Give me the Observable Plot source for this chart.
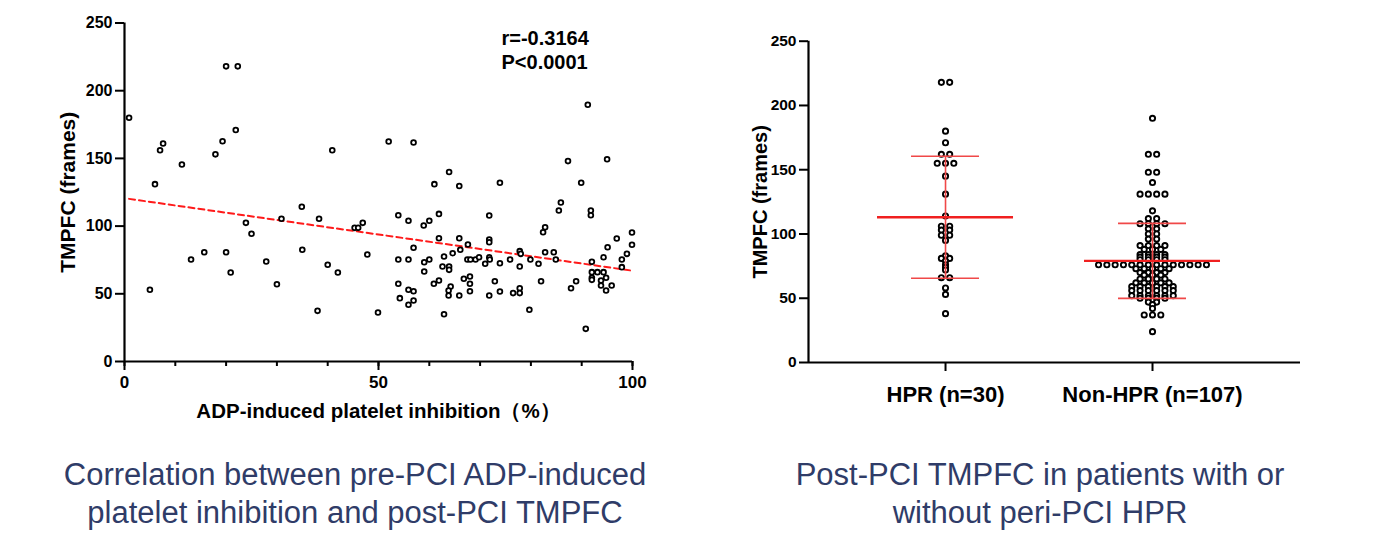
<!DOCTYPE html>
<html>
<head>
<meta charset="utf-8">
<script src="https://cdn.jsdelivr.net/npm/d3@7"></script>
<script src="https://cdn.jsdelivr.net/npm/@observablehq/plot@0.6"></script>
<style>
  html, body { margin: 0; padding: 0; background: #fff; }
  body { width: 1385px; height: 545px; position: relative; overflow: hidden;
         font-family: "Liberation Sans", Arial, sans-serif; }
  #left { position: absolute; left: 0; top: 0; }
  #right { position: absolute; left: 700px; top: 0; }
  .cap { position: absolute; text-align: center; color: #2f3c68;
         font-size: 31px; line-height: 38px; white-space: nowrap; }
</style>
</head>
<body>
<div id="left"></div>
<div id="right"></div>
<div class="cap" style="left:0; width:710px; top:456px;">Correlation between pre-PCI ADP-induced<br>platelet inhibition and post-PCI TMPFC</div>
<div class="cap" style="left:700px; width:680px; top:456px;">Post-PCI TMPFC in patients with or<br>without peri-PCI HPR</div>
<script>
// ADP-induced platelet inhibition (%) and post-PCI TMPFC (frames), one entry per patient
const inhibition = [0.9,20,22.3,6,7,7.6,11.3,17.9,19.3,21.9,40.9,91.2,52,56.9,63.9,61,65.9,73.9,87.3,95,89.9,85.9,85.5,91.8,91.8,53.9,55.9,60,58.9,61.9,71.8,82.8,82.4,99.9,96.9,61.9,65.9,71.8,23.9,25,30.9,34.9,38.3,45.3,46,46.9,5,13.1,15.7,20,20.9,27.9,30,35,38,40,42,47.8,49.9,56.9,71.8,64.6,62.9,66.1,67.6,53.9,55.9,59,60,59,62.6,63.9,63.9,67.5,68.1,69.1,69.8,71,71.8,71.9,73.9,75.9,77.8,78,77.8,79.9,81.5,82.8,84.5,84.9,92,94.3,95.1,97.9,98.9,99.9,97.9,92,92,92,93.1,94.3,93.8,94.8,93.8,94.8,95.9,88.9,87.9,90.8,82,79.7,77.8,77.8,76.5,73.9,72.9,71.8,68,68,68,66.8,65.9,64.2,63.8,63.8,61.9,60.9,62.9,56.9,55.9,56.9,55.9,54.2,53.9];
const tmpfc = [180,218,218,131,156,161,145.5,153,162.7,171,156,189.6,162.5,161.7,140,131,129.6,132,148,149.4,132,117.4,111.5,111.5,108,108,104,104,100.4,109,107.8,99.2,95.5,95.3,90.8,91,91,90.1,102.4,94.3,105.4,114.3,105.4,98.7,98.7,102.4,53,75.3,80.7,80.7,65.7,73.9,57,82.5,37.4,71.4,65.7,79,36.2,84,88.1,80,77.5,82.5,86.4,75.3,75.3,73.3,75.3,66.5,70.2,70.2,67.7,75.3,75.3,75.3,77,72.2,77,75.3,72.6,75.3,81.5,79.5,70.2,75.3,72.2,80.7,80.7,75.3,73.6,77,84.4,75.3,79.5,86.2,69.7,66,61.8,60.3,66,66,59.8,61.8,56.1,52.4,56.1,59.3,54.1,24.1,59.3,38.2,54.1,50.5,50.5,51.7,59.3,48.7,62.8,57.4,51.9,61.1,48.7,55.4,52.4,48.7,59.8,57.4,34.9,51.9,53,45,41.9,46.8,57.4];

// TMPFC by peri-PCI platelet reactivity group
const hprValues = [218,218,180,171,162,162,155,155,155,145,131,114,106,106,103,103,99,99,95,83,81,81,79,76,74,72,66,66,58,53,38];
const nonHprValues = [190,162,162,148,148,140,131,131,131,131,118,112,112,108,108,108,108,104,104,100,100,96,96,91,91,91,91,88,88,88,84,84,84,84,82,82,82,82,80,80,80,80,
  76,76,76,76,76,76,76,76,76,76,76,76,76,76,73,73,73,73,73,70,70,70,70,68,68,68,65,65,65,65,62,62,62,62,62,
  59,59,59,59,59,59,56,56,56,56,56,56,52,52,52,52,52,52,50,50,50,50,47,47,45,42,37,37,37,24];
const groupLabels = ["HPR (n=30)", "Non-HPR (n=107)"];

const xTicksMajor = [0, 50, 100];
const xTicksMinor = [0, 10, 20, 30, 40, 50, 60, 70, 80, 90, 100];
const yTicks = [0, 50, 100, 150, 200, 250];
const statR = "r=-0.3164";
const statP = "P<0.0001";

const font = '"Liberation Sans", Arial, sans-serif';
const scatter = inhibition.map((x, i) => ({x, y: tmpfc[i]}));

// ---- Left: scatter with linear fit ----
const leftPlot = Plot.plot({
  width: 680, height: 430,
  marginLeft: 124, marginRight: 48, marginTop: 22.5, marginBottom: 69,
  x: {domain: [0, 100]},
  y: {domain: [0, 250]},
  style: {fontFamily: font, fontWeight: "bold", color: "black", background: "white", overflow: "visible"},
  marks: [
    Plot.axisX({ticks: xTicksMinor, tickSize: 5, strokeWidth: 2, tickFormat: () => "", label: null}),
    Plot.axisX({ticks: xTicksMajor, tickSize: 9, strokeWidth: 2, tickPadding: 5, fontSize: 17, label: null}),
    Plot.axisY({ticks: yTicks, tickSize: 9, strokeWidth: 2, tickPadding: 3, fontSize: 16, label: null}),
    Plot.ruleX([0], {strokeWidth: 2.2}),
    Plot.ruleY([0], {strokeWidth: 2.2}),
    Plot.linearRegressionY(scatter, {x: "x", y: "y", stroke: "#ff1a1a", strokeWidth: 2, strokeDasharray: "6,4", ci: 0}),
    Plot.dot(scatter, {x: "x", y: "y", r: 2.4, stroke: "black", strokeWidth: 1.8, fill: "white"}),
    Plot.text(["TMPFC (frames)"], {frameAnchor: "left", textAnchor: "middle", rotate: -90, dx: -56, fontSize: 21, fontWeight: "bold"}),
    Plot.text(["ADP-induced platelet inhibition（%）"], {frameAnchor: "bottom", textAnchor: "middle", lineAnchor: "middle", dy: 50, fontSize: 20.5, fontWeight: "bold"}),
    Plot.text([statR], {frameAnchor: "top-right", textAnchor: "start", lineAnchor: "middle", dx: -131, dy: 15.5, fontSize: 20, fontWeight: "bold"}),
    Plot.text([statP], {frameAnchor: "top-right", textAnchor: "start", lineAnchor: "middle", dx: -131, dy: 39.5, fontSize: 20, fontWeight: "bold"})
  ]
});
document.getElementById("left").append(leftPlot);

// ---- Right: grouped scatter dot plot with mean ± SD ----
const centers = [1, 2];
const xDomain = [1 - 0.662, 2 + 0.715];
const pxPerUnit = 492 / (xDomain[1] - xDomain[0]);
const colStep = 8.3 / pxPerUnit;       // horizontal spacing between neighbouring dots

// equal values share a row, spread symmetrically about the group centre
function swarm(values, center) {
  const rows = d3.groups(values, v => v);
  const out = [];
  for (const [v, arr] of rows) {
    const k = arr.length;
    arr.forEach((_, i) => out.push({x: center + (i - (k - 1) / 2) * colStep, y: v}));
  }
  return out;
}
const groups = [hprValues, nonHprValues];
const dots = groups.flatMap((vals, gi) => swarm(vals, centers[gi]));
const stats = groups.map((vals, gi) => ({
  c: centers[gi],
  mean: d3.mean(vals),
  lo: d3.mean(vals) - d3.deviation(vals),
  hi: d3.mean(vals) + d3.deviation(vals)
}));
const sdHalf = 34 / pxPerUnit, meanHalf = 68 / pxPerUnit;

const rightPlot = Plot.plot({
  width: 685, height: 430,
  marginLeft: 108, marginRight: 85, marginTop: 40.7, marginBottom: 68,
  x: {domain: xDomain},
  y: {domain: [0, 250]},
  style: {fontFamily: font, fontWeight: "bold", color: "black", background: "white", overflow: "visible"},
  marks: [
    Plot.axisX({ticks: centers, tickSize: 9, strokeWidth: 2, tickPadding: 15, fontSize: 22,
                tickFormat: d => groupLabels[d - 1], label: null}),
    Plot.axisY({ticks: yTicks, tickSize: 9, strokeWidth: 2, tickPadding: 3, fontSize: 15.5, label: null}),
    Plot.ruleX([xDomain[0]], {strokeWidth: 2.2}),
    Plot.ruleY([0], {strokeWidth: 2.2}),
    Plot.dot(dots, {x: "x", y: "y", r: 2.6, stroke: "black", strokeWidth: 1.9, fill: "white"}),
    Plot.ruleX(stats, {x: "c", y1: "lo", y2: "hi", stroke: "#f04848", strokeWidth: 1.6}),
    Plot.ruleY(stats, {y: "hi", x1: d => d.c - sdHalf, x2: d => d.c + sdHalf, stroke: "#f04848", strokeWidth: 1.6}),
    Plot.ruleY(stats, {y: "lo", x1: d => d.c - sdHalf, x2: d => d.c + sdHalf, stroke: "#f04848", strokeWidth: 1.6}),
    Plot.ruleY(stats, {y: "mean", x1: d => d.c - meanHalf, x2: d => d.c + meanHalf, stroke: "#f02020", strokeWidth: 2.4}),
    Plot.text(["TMPFC (frames)"], {frameAnchor: "left", textAnchor: "middle", rotate: -90, dx: -48, fontSize: 20, fontWeight: "bold"})
  ]
});
document.getElementById("right").append(rightPlot);
</script>
</body>
</html>
